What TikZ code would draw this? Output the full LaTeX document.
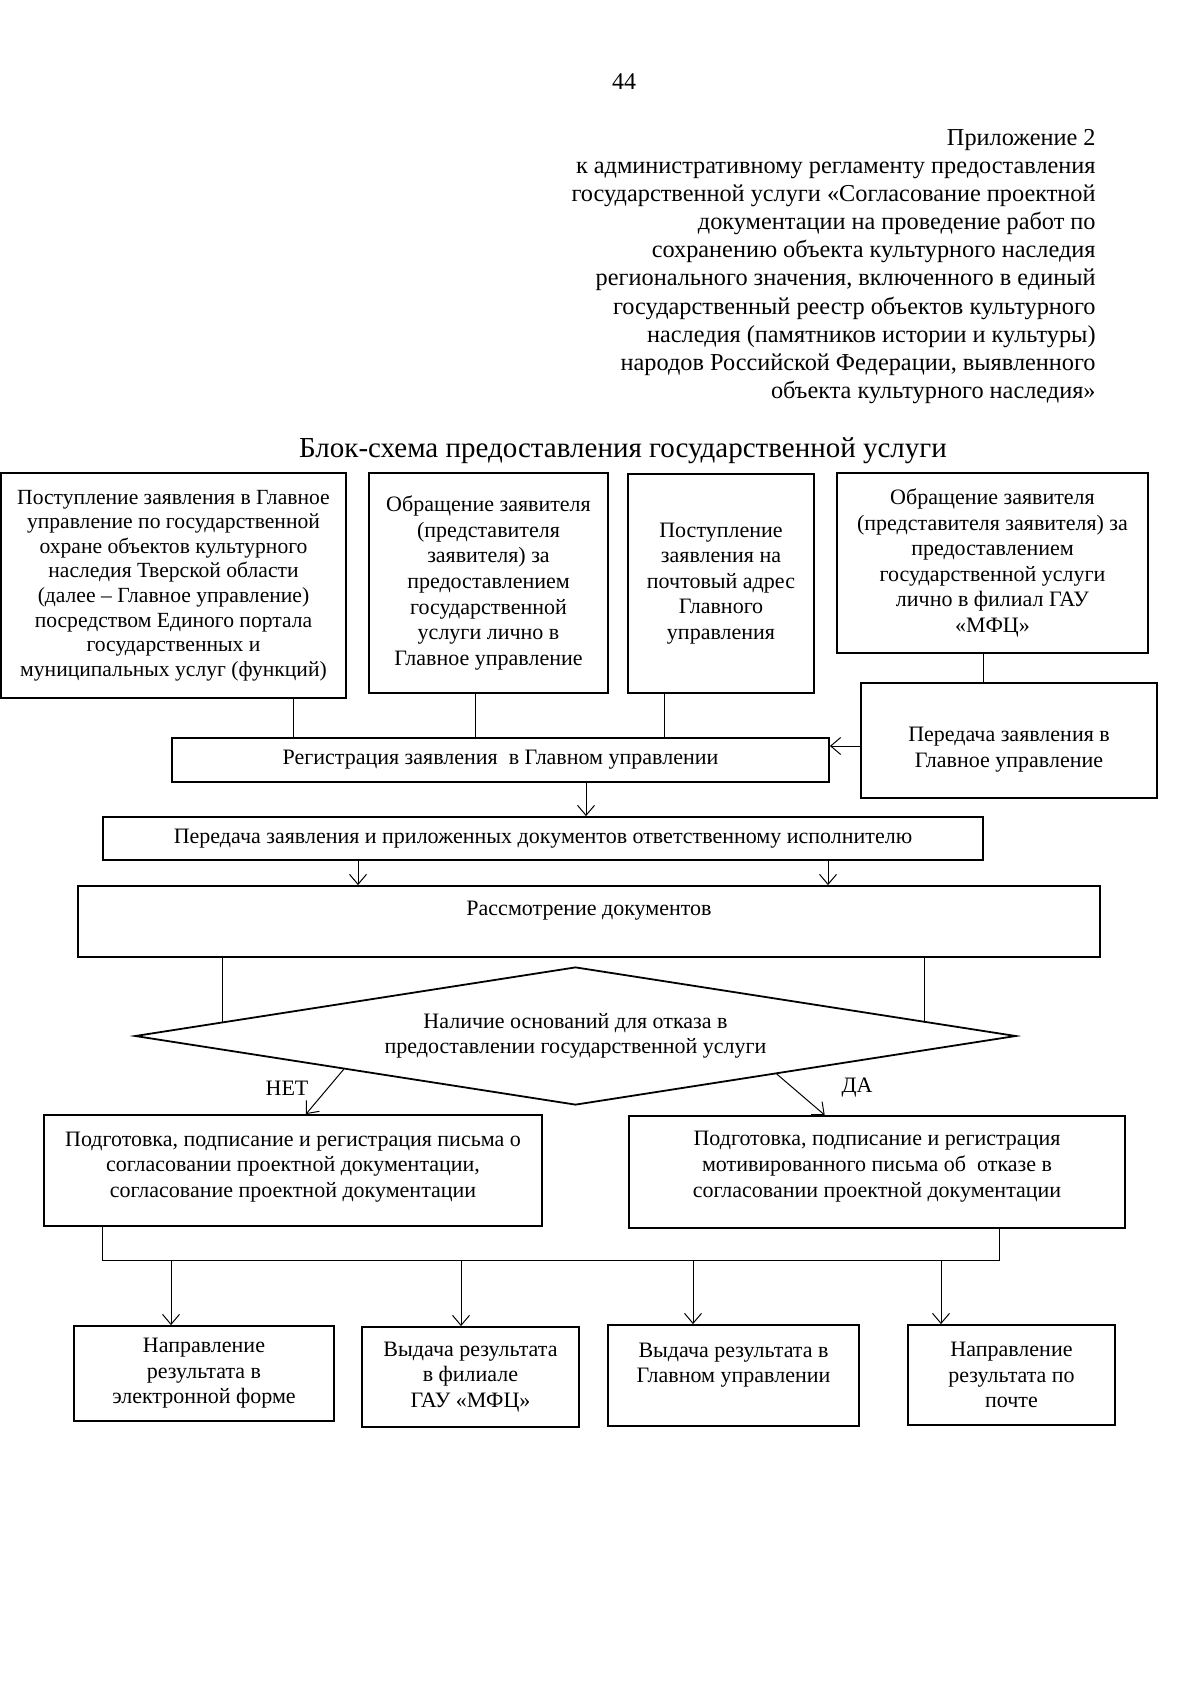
\documentclass[tikz,border=0pt]{standalone}
\usepackage{fontspec}
\setmainfont{Liberation Serif}
\usetikzlibrary{shapes.geometric,arrows.meta,calc}

\tikzset{
  box/.style = {draw, line width = 0.9pt, align = center, inner sep = 0pt, font = \fontsize{11}{12.8}\selectfont},
  txt/.style = {inner sep = 0pt, font = \fontsize{11}{12.8}\selectfont},
  line/.style = {line width = 0.5pt},
  arr/.style = {line width = 0.5pt, -{Straight Barb[length = 5pt, width = 8.5pt]}},
}

\begin{document}
\begin{tikzpicture}[x = 0.5pt, y = -0.5pt]
  \useasboundingbox (0,0) rectangle (1200,1702);

  % en-tete
  \node[inner sep = 0pt, font = \fontsize{12}{14}\selectfont] (num) at (624,82) {44};
  \node[inner sep = 0pt, anchor = east, align = right, font = \fontsize{12.15}{14.05}\selectfont] (annexe) at (1096,266.5)
    {Приложение 2\\ к административному регламенту предоставления\\ государственной услуги «Согласование проектной\\ документации на проведение работ по\\ сохранению объекта культурного наследия\\ регионального значения, включенного в единый\\ государственный реестр объектов культурного\\ наследия (памятников истории и культуры)\\ народов Российской Федерации, выявленного\\ объекта культурного наследия»};
  \node[inner sep = 0pt, font = \fontsize{14.5}{16}\selectfont] (titre) at (623,451) {Блок-схема предоставления государственной услуги};

  % entrees
  \node[box, minimum width = 172.5pt, minimum height = 112.5pt, font = \fontsize{10.8}{12.3}\selectfont] (a) at (173.5,585.5)
    {Поступление заявления в Главное\\ управление по государственной\\ охране объектов культурного\\ наследия Тверской области\\ (далее – Главное управление)\\ посредством Единого портала\\ государственных и\\ муниципальных услуг (функций)};
  \node[box, minimum width = 119.5pt, minimum height = 110pt] (b) at (488.5,583)
    {Обращение заявителя\\ (представителя\\ заявителя) за\\ предоставлением\\ государственной\\ услуги лично в\\ Главное управление};
  \node[box, minimum width = 93pt, minimum height = 109.5pt] (c) at (721,583.5)
    {Поступление\\ заявления на\\ почтовый адрес\\ Главного\\ управления};
  \node[box, minimum width = 155.5pt, minimum height = 90pt] (d) at (992.5,563)
    {Обращение заявителя\\ (представителя заявителя) за\\ предоставлением\\ государственной услуги\\ лично в филиал ГАУ\\ «МФЦ»};
  \node[box, minimum width = 148pt, minimum height = 57.5pt] (e) at (1009,740.5)
    {\rule{0pt}{16.5pt}Передача заявления в\\ Главное управление};

  \node[box, minimum width = 328.5pt, minimum height = 22pt] (reg) at (500.5,760)
    {Регистрация заявления\ \ в Главном управлении};
  \node[box, minimum width = 440pt, minimum height = 21.5pt] (tr) at (543,838.5)
    {Передача заявления и приложенных документов ответственному исполнителю};
  \node[box, minimum width = 511pt, minimum height = 35.5pt] (rev) at (589,921.5)
    {Рассмотрение документов\\ \mbox{}};
  \node[box, diamond, aspect = 6.4, minimum width = 440.5pt, minimum height = 69pt] (dia) at (575.5,1036)
    {Наличие оснований для отказа в\\ предоставлении государственной услуги};

  \node[box, minimum width = 249pt, minimum height = 55.5pt] (appr) at (293,1170.5)
    {Подготовка, подписание и регистрация письма о\\ согласовании проектной документации,\\ согласование проектной документации\\[-7pt]\mbox{}};
  \node[box, minimum width = 248pt, minimum height = 56pt] (refu) at (877,1172)
    {Подготовка, подписание и регистрация\\ мотивированного письма об\ \ отказе в\\ согласовании проектной документации\\[-5pt]\mbox{}};

  % resultats
  \node[box, minimum width = 130pt, minimum height = 47.5pt] (out1) at (204,1373.5)
    {Направление\\ результата в\\ электронной форме};
  \node[box, minimum width = 108.5pt, minimum height = 50pt] (out2) at (470.5,1377)
    {Выдача результата\\ в филиале\\ ГАУ «МФЦ»};
  \node[box, minimum width = 125.5pt, minimum height = 50.5pt] (out3) at (733.5,1375.5)
    {Выдача результата в\\ Главном управлении\\ \mbox{}};
  \node[box, minimum width = 103.5pt, minimum height = 50pt] (out4) at (1011.5,1375)
    {Направление\\ результата по\\ почте};

  % liaisons
  \draw[line] ([xshift = 59.75pt]a.south) coordinate (a1) -- (a1 |- reg.north);
  \draw[line] ([xshift = -6.75pt]b.south) coordinate (b1) -- (b1 |- reg.north);
  \draw[line] ([xshift = -28.5pt]c.south) coordinate (c1) -- (c1 |- reg.north);
  \draw[line] ([xshift = -4.75pt]d.south) coordinate (d1) -- (d1 |- e.north);
  \draw[arr] ([yshift = -2.75pt]e.west) coordinate (e1) -- (e1 -| reg.east);
  \draw[arr] ([xshift = 42.75pt]reg.south) coordinate (r1) -- (r1 |- tr.north);
  \draw[arr] ([xshift = -92.5pt]tr.south) coordinate (t1) -- (t1 |- rev.north);
  \draw[arr] ([xshift = 142.5pt]tr.south) coordinate (t2) -- (t2 |- rev.north);

  \coordinate (p1) at ($(dia.west)!0.2!(dia.north)$);
  \coordinate (p2) at ($(dia.north)!0.79!(dia.east)$);
  \draw[line] (rev.south -| p1) -- (p1);
  \draw[line] (rev.south -| p2) -- (p2);

  \draw[arr] ($(dia.west)!0.475!(dia.south)$) -- ($(appr.north west)!0.526!(appr.north east)$);
  \draw[arr] ($(dia.south)!0.456!(dia.east)$) -- ($(refu.north west)!0.395!(refu.north east)$);
  \node[txt] (net) at (287,1088) {НЕТ};
  \node[txt] (da) at (857,1088) {ДА};

  \coordinate (busl) at (102,1260);
  \coordinate (busr) at (999,1260);
  \draw[line] (appr.south -| busl) -- (busl) -- (busr) -- (refu.south -| busr);
  \coordinate (o1) at ([xshift = -16.5pt]out1.north);
  \coordinate (o2) at ([xshift = -4.75pt]out2.north);
  \coordinate (o3) at ([xshift = -20.25pt]out3.north);
  \coordinate (o4) at ([xshift = -35.25pt]out4.north);
  \draw[arr] (o1 |- busl) -- (o1);
  \draw[arr] (o2 |- busl) -- (o2);
  \draw[arr] (o3 |- busl) -- (o3);
  \draw[arr] (o4 |- busl) -- (o4);
\end{tikzpicture}
\end{document}
